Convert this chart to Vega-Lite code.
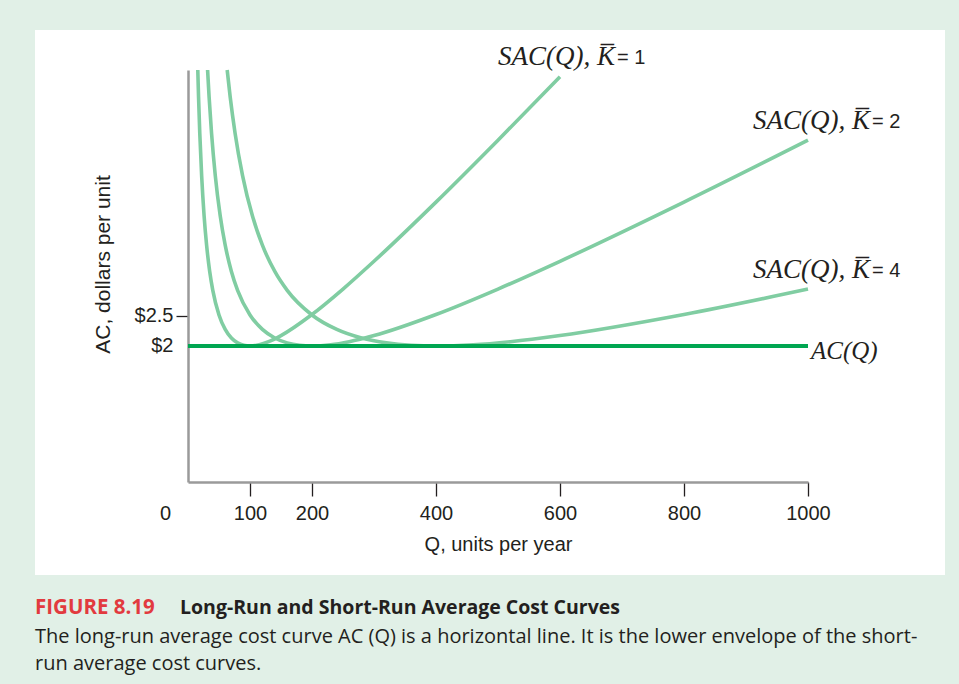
{
  "$schema": "https://vega.github.io/schema/vega-lite/v6.json",
  "background": "#e1f0e7",
  "padding": {"left": 35, "top": 30, "right": 14, "bottom": 14},
  "autosize": {"type": "pad"},
  "title": {
    "text": "Long-Run and Short-Run Average Cost Curves",
    "orient": "bottom", "anchor": "start", "dx": 145, "dy": -85,
    "font": "Open Sans", "fontSize": 19.5, "fontWeight": "bold", "color": "#231f20"
  },
  "datasets": {
    "curves": [
      {"curve": "K1", "Q": 15.8, "AC": 6.6}, {"curve": "K1", "Q": 17, "AC": 6.155}, {"curve": "K1", "Q": 19, "AC": 5.543},
      {"curve": "K1", "Q": 22, "AC": 4.839}, {"curve": "K1", "Q": 26, "AC": 4.165}, {"curve": "K1", "Q": 30, "AC": 3.68},
      {"curve": "K1", "Q": 35, "AC": 3.243}, {"curve": "K1", "Q": 40, "AC": 2.928}, {"curve": "K1", "Q": 50, "AC": 2.517},
      {"curve": "K1", "Q": 60, "AC": 2.276}, {"curve": "K1", "Q": 70, "AC": 2.133}, {"curve": "K1", "Q": 80, "AC": 2.052},
      {"curve": "K1", "Q": 90, "AC": 2.012}, {"curve": "K1", "Q": 100, "AC": 2.0}, {"curve": "K1", "Q": 115, "AC": 2.02},
      {"curve": "K1", "Q": 130, "AC": 2.072}, {"curve": "K1", "Q": 150, "AC": 2.174}, {"curve": "K1", "Q": 200, "AC": 2.525},
      {"curve": "K1", "Q": 250, "AC": 2.949}, {"curve": "K1", "Q": 300, "AC": 3.412}, {"curve": "K1", "Q": 400, "AC": 4.398},
      {"curve": "K1", "Q": 500, "AC": 5.43}, {"curve": "K1", "Q": 600, "AC": 6.487},
      {"curve": "K2", "Q": 31.6, "AC": 6.6}, {"curve": "K2", "Q": 34, "AC": 6.155}, {"curve": "K2", "Q": 38, "AC": 5.543},
      {"curve": "K2", "Q": 44, "AC": 4.839}, {"curve": "K2", "Q": 52, "AC": 4.165}, {"curve": "K2", "Q": 60, "AC": 3.68},
      {"curve": "K2", "Q": 70, "AC": 3.243}, {"curve": "K2", "Q": 80, "AC": 2.928}, {"curve": "K2", "Q": 100, "AC": 2.517},
      {"curve": "K2", "Q": 120, "AC": 2.276}, {"curve": "K2", "Q": 140, "AC": 2.133}, {"curve": "K2", "Q": 160, "AC": 2.052},
      {"curve": "K2", "Q": 180, "AC": 2.012}, {"curve": "K2", "Q": 200, "AC": 2.0}, {"curve": "K2", "Q": 230, "AC": 2.02},
      {"curve": "K2", "Q": 260, "AC": 2.072}, {"curve": "K2", "Q": 300, "AC": 2.174}, {"curve": "K2", "Q": 400, "AC": 2.525},
      {"curve": "K2", "Q": 500, "AC": 2.949}, {"curve": "K2", "Q": 600, "AC": 3.412}, {"curve": "K2", "Q": 800, "AC": 4.398},
      {"curve": "K2", "Q": 1000, "AC": 5.43},
      {"curve": "K4", "Q": 63.2, "AC": 6.6}, {"curve": "K4", "Q": 68, "AC": 6.155}, {"curve": "K4", "Q": 76, "AC": 5.543},
      {"curve": "K4", "Q": 88, "AC": 4.839}, {"curve": "K4", "Q": 104, "AC": 4.165}, {"curve": "K4", "Q": 120, "AC": 3.68},
      {"curve": "K4", "Q": 140, "AC": 3.243}, {"curve": "K4", "Q": 160, "AC": 2.928}, {"curve": "K4", "Q": 200, "AC": 2.517},
      {"curve": "K4", "Q": 240, "AC": 2.276}, {"curve": "K4", "Q": 280, "AC": 2.133}, {"curve": "K4", "Q": 320, "AC": 2.052},
      {"curve": "K4", "Q": 360, "AC": 2.012}, {"curve": "K4", "Q": 400, "AC": 2.0}, {"curve": "K4", "Q": 460, "AC": 2.02},
      {"curve": "K4", "Q": 520, "AC": 2.072}, {"curve": "K4", "Q": 600, "AC": 2.174}, {"curve": "K4", "Q": 800, "AC": 2.525},
      {"curve": "K4", "Q": 1000, "AC": 2.949}
    ],
    "longrun": [{"Q": 0, "AC": 2}, {"Q": 1000, "AC": 2}],
    "minima": [{"Q": 100}, {"Q": 200}, {"Q": 400}],
    "labels": [
      {"curve": "K1", "Q": 600, "AC": 6.487, "name": "SAC(Q), K\u0305", "eq": "= 1"},
      {"curve": "K2", "Q": 1000, "AC": 5.43, "name": "SAC(Q), K\u0305", "eq": "= 2"},
      {"curve": "K4", "Q": 1000, "AC": 2.949, "name": "SAC(Q), K\u0305", "eq": "= 4"}
    ],
    "aclabel": [{"Q": 1000, "AC": 2, "name": "AC(Q)"}]
  },
  "vconcat": [
    {
      "width": 910,
      "height": 545,
      "title": {
        "text": "FIGURE 8.19",
        "orient": "bottom", "anchor": "start", "offset": 23,
        "font": "Open Sans", "fontSize": 20.5, "fontWeight": "bold", "color": "#e23a3f",
        "subtitle": [
          "The long-run average cost curve AC (Q) is a horizontal line. It is the lower envelope of the short-",
          "run average cost curves."
        ],
        "subtitleFont": "Open Sans", "subtitleFontSize": 20, "subtitleColor": "#231f20",
        "subtitlePadding": 8, "subtitleLineHeight": 27
      },
      "encoding": {
        "x": {
          "field": "Q", "type": "quantitative",
          "scale": {"domain": [0, 1000], "range": [153, 773], "nice": false, "zero": false},
          "axis": {
            "values": [0, 100, 200, 400, 600, 800, 1000],
            "format": "d",
            "offset": -93,
            "grid": false,
            "domainColor": "#9a9a9a", "domainWidth": 2.5,
            "tickColor": "#231f20", "tickSize": 14, "tickWidth": 1.3,
            "tickOpacity": {"condition": {"test": "datum.value == 0", "value": 0}, "value": 1},
            "labelFont": "Liberation Sans", "labelFontSize": 20, "labelColor": "#231f20",
            "labelPadding": 7, "labelFlush": false, "labelOverlap": false,
            "labelOffset": {"condition": {"test": "datum.value == 0", "value": -23}, "value": 0},
            "title": "Q, units per year",
            "titleFont": "Liberation Sans", "titleFontSize": 20, "titleFontWeight": "normal",
            "titleColor": "#231f20", "titlePadding": 11
          }
        },
        "y": {
          "field": "AC", "type": "quantitative",
          "scale": {"domain": [-0.267, 6.6], "range": [452, 40], "nice": false, "zero": false},
          "axis": {
            "values": [2, 2.5],
            "offset": -153,
            "grid": false,
            "labelExpr": "'$' + datum.value",
            "domainColor": "#9a9a9a", "domainWidth": 2.5,
            "tickColor": "#231f20", "tickSize": 12, "tickWidth": 1.3,
            "tickOpacity": {"condition": {"test": "datum.value == 2", "value": 0}, "value": 1},
            "labelFont": "Liberation Sans", "labelFontSize": 20, "labelColor": "#231f20",
            "labelPadding": 3, "labelFlush": false, "labelOverlap": false,
            "title": "AC, dollars per unit",
            "titleFont": "Liberation Sans", "titleFontSize": 21, "titleFontWeight": "normal",
            "titleColor": "#231f20", "titlePadding": 21, "titleY": 234
          }
        }
      },
      "layer": [
        {
          "data": {"name": "minima"},
          "mark": {"type": "rule", "color": "#231f20", "strokeWidth": 1.6, "strokeDash": [1.6, 6.4]},
          "encoding": {"y": {"datum": 2}, "y2": {"datum": -0.267}}
        },
        {
          "data": {"name": "curves"},
          "mark": {"type": "line", "interpolate": "monotone", "color": "#80cda2", "strokeWidth": 3.6},
          "encoding": {"detail": {"field": "curve"}}
        },
        {
          "data": {"name": "longrun"},
          "mark": {"type": "line", "color": "#00a651", "strokeWidth": 4}
        },
        {
          "data": {"name": "labels"},
          "transform": [{"filter": "datum.curve == 'K1'"}],
          "mark": {"type": "text", "align": "right", "baseline": "middle", "dx": 55, "dy": -20, "font": "Liberation Serif", "fontStyle": "italic", "fontSize": 27, "color": "#231f20"},
          "encoding": {"text": {"field": "name"}}
        },
        {
          "data": {"name": "labels"},
          "transform": [{"filter": "datum.curve == 'K1'"}],
          "mark": {"type": "text", "align": "left", "baseline": "middle", "dx": 57, "dy": -19, "font": "Liberation Sans", "fontSize": 20, "color": "#231f20"},
          "encoding": {"text": {"field": "eq"}}
        },
        {
          "data": {"name": "labels"},
          "transform": [{"filter": "datum.curve != 'K1'"}],
          "mark": {"type": "text", "align": "right", "baseline": "middle", "dx": 62, "dy": -19, "font": "Liberation Serif", "fontStyle": "italic", "fontSize": 27, "color": "#231f20"},
          "encoding": {"text": {"field": "name"}}
        },
        {
          "data": {"name": "labels"},
          "transform": [{"filter": "datum.curve != 'K1'"}],
          "mark": {"type": "text", "align": "left", "baseline": "middle", "dx": 64, "dy": -18, "font": "Liberation Sans", "fontSize": 20, "color": "#231f20"},
          "encoding": {"text": {"field": "eq"}}
        },
        {
          "data": {"name": "aclabel"},
          "mark": {"type": "text", "align": "left", "baseline": "middle", "dx": 3, "dy": 5, "font": "Liberation Serif", "fontStyle": "italic", "fontSize": 25, "color": "#231f20"},
          "encoding": {"text": {"field": "name"}}
        }
      ]
    }
  ],
  "config": {
    "view": {"fill": "white", "stroke": null},
    "title": {"offset": 10}
  }
}
